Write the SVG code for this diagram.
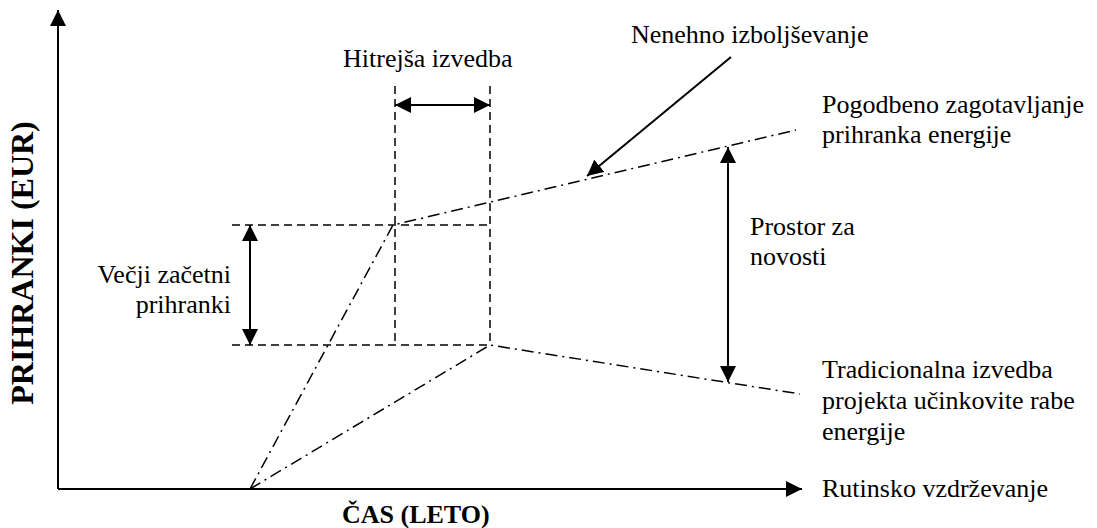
<svg xmlns="http://www.w3.org/2000/svg" width="1097" height="528" viewBox="0 0 1097 528">
  <style>
    .lbl { font-family: "Liberation Serif", "Times New Roman", serif; font-size: 26px; fill: #000; }
    .bold { font-weight: bold; }
    .axis { stroke: #000; stroke-width: 2; fill: none; }
    .arrow { stroke: #000; stroke-width: 2; fill: none; }
    .dash { stroke: #000; stroke-width: 1.5; fill: none; stroke-dasharray: 8 5; }
    .dashdot { stroke: #000; stroke-width: 1.5; fill: none; stroke-dasharray: 12 5 2 5; }
  </style>
  <defs>
    <marker id="head" viewBox="0 0 16 16" refX="16" refY="8" markerWidth="16" markerHeight="16" markerUnits="userSpaceOnUse" orient="auto-start-reverse">
      <path d="M0,0 L16,8 L0,16 z" fill="#000"/>
    </marker>
  </defs>
  <rect width="1097" height="528" fill="#fff"/>

  <!-- axes -->
  <g id="axes">
    <line class="axis" x1="58" y1="489" x2="58" y2="10" marker-end="url(#head)"/>
    <line class="axis" x1="58" y1="489" x2="802" y2="489" marker-end="url(#head)"/>
    <text class="lbl bold" x="342" y="523">ČAS (LETO)</text>
    <text class="lbl bold" style="font-size:32px" transform="translate(33,263) rotate(-90)" text-anchor="middle">PRIHRANKI (EUR)</text>
  </g>

  <!-- guide lines -->
  <g id="guides">
    <line class="dash" x1="232" y1="225" x2="490" y2="225"/>
    <line class="dash" x1="232" y1="345" x2="490" y2="345"/>
    <line class="dash" x1="395" y1="86" x2="395" y2="345"/>
    <line class="dash" x1="490" y1="86" x2="490" y2="345"/>
  </g>

  <!-- savings curves -->
  <g id="curves">
    <polyline class="dashdot" points="250,489 393,225 796,130"/>
    <polyline class="dashdot" points="250,489 490,345 800,394"/>
  </g>

  <!-- connectors -->
  <g id="connectors">
    <line class="arrow" x1="395" y1="105" x2="490" y2="105" marker-start="url(#head)" marker-end="url(#head)"/>
    <line class="arrow" x1="250" y1="225" x2="250" y2="345" marker-start="url(#head)" marker-end="url(#head)"/>
    <line class="arrow" x1="728" y1="147" x2="728" y2="382" marker-start="url(#head)" marker-end="url(#head)"/>
    <line class="arrow" x1="731" y1="57" x2="587" y2="176" marker-end="url(#head)"/>
  </g>

  <g id="faster">
    <text class="lbl" x="343" y="67">Hitrejša izvedba</text>
  </g>
  <g id="improvement">
    <text class="lbl" x="631" y="43">Nenehno izboljševanje</text>
  </g>
  <g id="contract">
    <text class="lbl" x="822" y="113">Pogodbeno zagotavljanje</text>
    <text class="lbl" x="822" y="143">prihranka energije</text>
  </g>
  <g id="innovation">
    <text class="lbl" x="750" y="235">Prostor za</text>
    <text class="lbl" x="750" y="265">novosti</text>
  </g>
  <g id="initial">
    <text class="lbl" x="231" y="283" text-anchor="end">Večji začetni</text>
    <text class="lbl" x="231" y="313" text-anchor="end">prihranki</text>
  </g>
  <g id="traditional">
    <text class="lbl" x="822" y="378">Tradicionalna izvedba</text>
    <text class="lbl" x="822" y="409">projekta učinkovite rabe</text>
    <text class="lbl" x="822" y="440">energije</text>
  </g>
  <g id="routine">
    <text class="lbl" x="822" y="497">Rutinsko vzdrževanje</text>
  </g>
</svg>
